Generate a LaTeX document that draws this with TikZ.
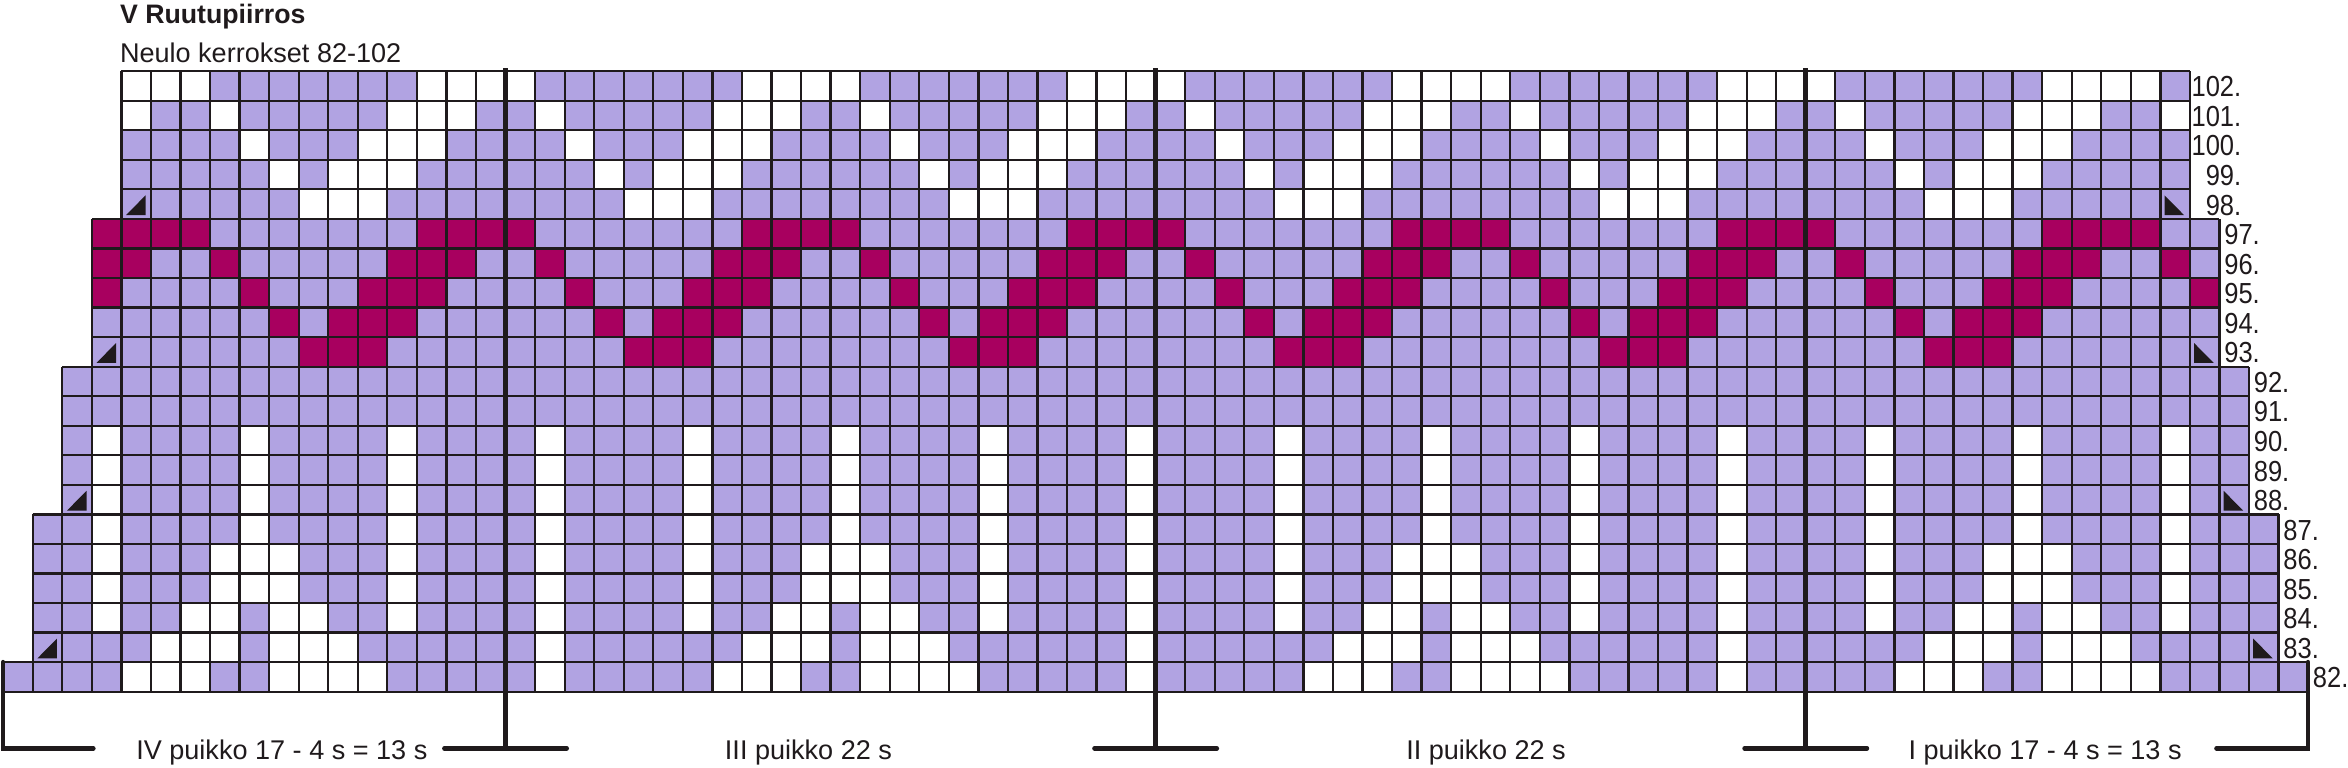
\documentclass[tikz,border=0pt]{standalone}
\usepackage{fontspec}
\setmainfont{Liberation Sans}
\newfontfamily\rowfamily[FakeStretch=0.88]{Liberation Sans}
\usepackage{xcolor}
\usepackage{tikz}
\usetikzlibrary{positioning}
\definecolor{kLilac}{HTML}{B1A3E2}
\definecolor{kBerry}{HTML}{A8005F}
\definecolor{kInk}{HTML}{1F1A1C}
\tikzset{
  chartgrid/.style={draw=kInk, line width=0.65pt, step=1},
  decmark/.style={fill=kInk},
  needleline/.style={draw=kInk, line width=1.3pt, line cap=round},
  rowlbl/.style={font=\rowfamily\fontsize{8.25}{9}\selectfont, inner sep=0pt, text=kInk},
  needlelbl/.style={font=\fontsize{7.7}{9}\selectfont, inner sep=0pt, anchor=base, text=kInk},
}

\begin{document}
\begin{tikzpicture}[x=0.2955cm, y=0.2955cm]
  \useasboundingbox (-0.1083,-2.548) rectangle (79.35,23.408);
  % background of each block of rows
  \fill[kLilac] (4,16) rectangle (74,21);
  \fill[kLilac] (3,11) rectangle (75,16);
  \fill[kLilac] (2,6) rectangle (76,11);
  \fill[kLilac] (1,1) rectangle (77,6);
  \fill[kLilac] (0,0) rectangle (78,1);
  % white and berry stitches: row/first/last/repeat/positions/colour
  \foreach \yy/\lo/\hi/\per/\res/\col in {
      20/4/74/11/{3,4,5,6}/white, 19/4/74/11/{2,3,4,7}/white,
      18/4/74/11/{1,2,3,8}/white, 17/4/74/11/{0,1,2,9}/white,
      16/4/74/11/{10,0,1}/white,
      15/3/75/11/{3,4,5,6}/kBerry, 14/3/75/11/{2,3,4,7}/kBerry,
      13/3/75/11/{1,2,3,8}/kBerry, 12/3/75/11/{0,1,2,9}/kBerry,
      11/3/75/11/{10,0,1}/kBerry,
      8/2/76/20/{3,8,13,18}/white, 7/2/76/20/{3,8,13,18}/white,
      6/2/76/20/{3,8,13,18}/white, 5/1/77/20/{3,8,13,18}/white,
      4/1/77/20/{3,7,8,9,13,18}/white, 3/1/77/20/{3,7,8,9,13,18}/white,
      2/1/77/20/{3,6,7,9,10,13,18}/white,
      1/1/77/20/{5,6,7,9,10,11,18}/white,
      0/0/78/20/{4,5,6,9,10,11,12,18}/white}{
    \foreach \m in \res {
      \foreach \k in {0,...,7} {
        \pgfmathtruncatemacro\cc{\m+\k*\per}
        \ifnum\cc<\lo\relax\else
          \ifnum\cc<\hi\relax
            \fill[\col] (\cc,\yy) rectangle ++(1,1);
          \fi
        \fi
      }
    }
  }
  % decrease marks
  \foreach \cx/\cy in {4/16,3/11,2/6,1/1}
    \fill[decmark] (\cx+0.16,\cy+0.13) -- (\cx+0.82,\cy+0.13) -- (\cx+0.82,\cy+0.8) -- cycle;
  \foreach \cx/\cy in {73/16,74/11,75/6,76/1}
    \fill[decmark] (\cx+0.14,\cy+0.8) -- (\cx+0.14,\cy+0.13) -- (\cx+0.8,\cy+0.13) -- cycle;
  % grid
  \draw[chartgrid] (4,16) grid (74,21);
  \draw[chartgrid] (3,11) grid (75,16);
  \draw[chartgrid] (2,6) grid (76,11);
  \draw[chartgrid] (1,1) grid (77,6);
  \draw[chartgrid] (0,0) grid (78,1);
  % needle borders
  \foreach \nx in {17,39,61} {
    \draw[needleline, line cap=butt] (\nx,21.09) -- (\nx,-1.915);
    \draw[needleline] (\nx-2.07,-1.915) -- (\nx+2.07,-1.915);
  }
  \draw[needleline] (0,1) -- (0,-1.915) -- (3.05,-1.915);
  \draw[needleline] (78,1) -- (78,-1.915) -- (74.9,-1.915);
  % titles
  \node[anchor=base west, inner sep=0pt, font=\bfseries\fontsize{7.6}{9}\selectfont, text=kInk]
    (title) at (3.93,22.60) {V Ruutupiirros};
  \node[anchor=base west, inner sep=0pt, font=\fontsize{7.7}{9}\selectfont, text=kInk]
    (subtitle) at (3.93,21.30) {Neulo kerrokset 82-102};
  % row numbers
  \foreach \r in {98,...,102}
    \node[rowlbl, anchor=base east] (r\r) at (75.76,\r-82+0.13) {\r.};
  \foreach \r in {93,...,97}
    \node[rowlbl, anchor=base west] (r\r) at (75.14,\r-82+0.13) {\r.};
  \foreach \r in {88,...,92}
    \node[rowlbl, anchor=base west] (r\r) at (76.14,\r-82+0.13) {\r.};
  \foreach \r in {83,...,87}
    \node[rowlbl, anchor=base west] (r\r) at (77.14,\r-82+0.13) {\r.};
  \node[rowlbl, anchor=base west] (r82) at (78.14,0.13) {82.};
  % needle labels
  \node[needlelbl] (needleIV) at (9.43,-2.278) {IV puikko 17 - 4 s = 13 s};
  \node[needlelbl] (needleIII) at (27.25,-2.278) {III puikko 22 s};
  \node[needlelbl] (needleII) at (50.18,-2.278) {II puikko 22 s};
  \node[needlelbl] (needleI) at (69.10,-2.278) {I puikko 17 - 4 s = 13 s};
\end{tikzpicture}
\end{document}
